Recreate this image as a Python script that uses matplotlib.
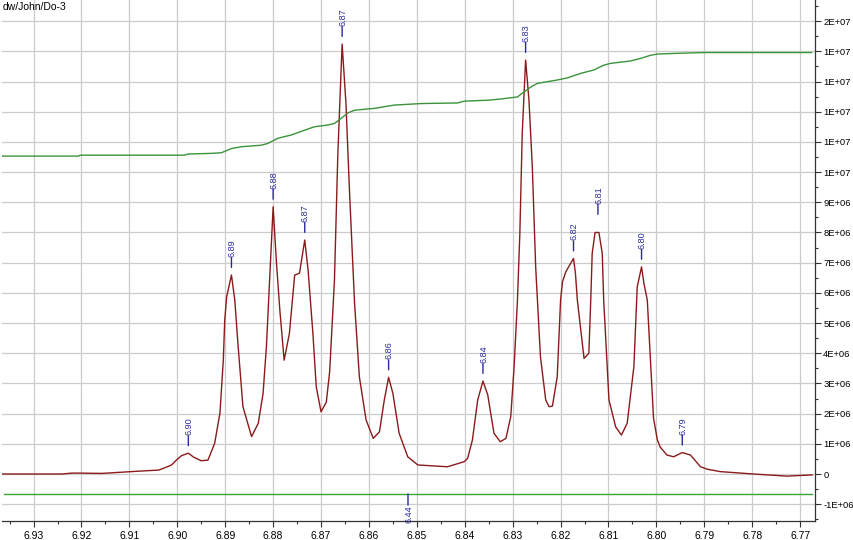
# NMR spectrum, 6.77 - 6.93 ppm, with integral trace and peak picks
import numpy as np
import matplotlib.pyplot as plt
from matplotlib.ticker import MultipleLocator, FuncFormatter

title = "dw/John/Do-3"

# spectrum (ppm, intensity in 1e6 units)
ppm = [6.9366, 6.9241, 6.9220, 6.9206, 6.9158, 6.9074, 6.9039, 6.9027, 6.9012, 6.9002,
       6.8991, 6.8977, 6.8966, 6.8950, 6.8936, 6.8922, 6.8911, 6.8904, 6.8901, 6.8897,
       6.8887, 6.8880, 6.8873, 6.8863, 6.8845, 6.8831, 6.8821, 6.8814, 6.8807, 6.8800,
       6.8793, 6.8786, 6.8777, 6.8766, 6.8755, 6.8745, 6.8734, 6.8727, 6.8717, 6.8710,
       6.8700, 6.8689, 6.8682, 6.8672, 6.8665, 6.8656, 6.8648, 6.8641, 6.8630, 6.8620,
       6.8606, 6.8591, 6.8578, 6.8568, 6.8559, 6.8550, 6.8537, 6.8519, 6.8498, 6.8436,
       6.8401, 6.8394, 6.8384, 6.8373, 6.8362, 6.8352, 6.8339, 6.8326, 6.8314, 6.8304,
       6.8297, 6.8290, 6.8285, 6.8280, 6.8273, 6.8266, 6.8259, 6.8252, 6.8242, 6.8231,
       6.8224, 6.8217, 6.8207, 6.8200, 6.8196, 6.8189, 6.8173, 6.8169, 6.8165, 6.8151,
       6.8141, 6.8137, 6.8134, 6.8128, 6.8120, 6.8113, 6.8110, 6.8099, 6.8085, 6.8073,
       6.8061, 6.8047, 6.8040, 6.8031, 6.8026, 6.8019, 6.8006, 6.7998, 6.7992, 6.7978,
       6.7964, 6.7946, 6.7929, 6.7908, 6.7894, 6.7867, 6.7832, 6.7797, 6.7728, 6.7675]
intensity = [0.00, 0.00, 0.03, 0.03, 0.02, 0.10, 0.13, 0.20, 0.30, 0.46,
             0.61, 0.69, 0.56, 0.44, 0.46, 1.02, 2.02, 3.77, 5.10, 5.87,
             6.59, 5.76, 4.22, 2.23, 1.24, 1.68, 2.67, 4.22, 6.53, 8.85,
             6.98, 5.43, 3.77, 4.66, 6.59, 6.65, 7.75, 6.75, 4.66, 2.89,
             2.06, 2.38, 3.39, 6.42, 10.56, 14.24, 12.28, 9.51, 5.65, 3.22,
             1.79, 1.18, 1.40, 2.45, 3.20, 2.67, 1.35, 0.57, 0.30, 0.24,
             0.41, 0.52, 1.13, 2.45, 3.08, 2.62, 1.35, 1.07, 1.18, 1.90,
             3.55, 5.76, 7.98, 11.29, 13.71, 12.38, 10.18, 6.86, 3.88, 2.45,
             2.23, 2.25, 3.22, 5.76, 6.37, 6.70, 7.14, 6.65, 5.76, 3.83,
             4.00, 5.76, 7.31, 8.00, 8.00, 7.31, 5.76, 2.45, 1.56, 1.29,
             1.68, 3.55, 6.20, 6.86, 6.31, 5.76, 1.85, 1.13, 0.89, 0.63,
             0.57, 0.71, 0.63, 0.24, 0.16, 0.08, 0.04, 0.00, -0.07, -0.03]

# integral curve
int_ppm = [6.9366, 6.9206, 6.9203, 6.8985, 6.8977, 6.8929, 6.8908, 6.8887, 6.8866, 6.8825,
           6.8811, 6.8790, 6.8762, 6.8734, 6.8714, 6.8686, 6.8672, 6.8658, 6.8644, 6.8630,
           6.8589, 6.8547, 6.8491, 6.8415, 6.8401, 6.8352, 6.8325, 6.8290, 6.8276, 6.8262,
           6.8248, 6.8207, 6.8186, 6.8158, 6.8131, 6.8110, 6.8096, 6.8054, 6.8032, 6.8012,
           6.7998, 6.7964, 6.7901, 6.7676]
int_val = [10.53, 10.53, 10.56, 10.56, 10.60, 10.62, 10.64, 10.78, 10.84, 10.89,
           10.95, 11.12, 11.23, 11.39, 11.50, 11.56, 11.61, 11.78, 11.96, 12.05,
           12.11, 12.22, 12.27, 12.29, 12.35, 12.38, 12.42, 12.49, 12.66, 12.82,
           12.94, 13.05, 13.12, 13.27, 13.38, 13.54, 13.60, 13.68, 13.77, 13.87,
           13.91, 13.93, 13.96, 13.96]

# picked peaks
peak_ppm = [6.8977, 6.8887, 6.8800, 6.8734, 6.8656, 6.8559, 6.8362, 6.8273, 6.8173, 6.8122, 6.8031, 6.7946]
peak_int = [0.69, 6.59, 8.85, 7.75, 14.24, 3.20, 3.08, 13.71, 7.14, 8.35, 6.86, 0.71]

# integral region
region = [6.9362, 6.7675]
region_level = -0.66
region_value = "6.44"

scale = 1e6
red = "#8b1a1a"
green = "#3a933a"
blue = "#2a2a9c"

plt.rcParams['font.family'] = ['Liberation Sans', 'DejaVu Sans']
fig = plt.figure(figsize=(8.54, 5.40), dpi=100)
ax = fig.add_axes([0.0023, 0.0352, 0.952, 0.9648])

ax.plot(ppm, np.array(intensity) * scale, color=red, lw=1.0, zorder=3)
ax.plot(int_ppm, np.array(int_val) * scale, color=green, lw=1.0, zorder=3)
ax.plot(region, [region_level * scale] * 2, color="#33a833", lw=1.0, zorder=3)

for p, h in zip(peak_ppm, peak_int):
    ax.annotate("", xy=(p, h * scale), xytext=(0, 12.5), textcoords="offset points",
                arrowprops=dict(arrowstyle="-", color=blue, lw=1.0, shrinkA=0, shrinkB=5.5))
    ax.annotate(f"{p:.2f}", xy=(p, h * scale), xytext=(0.4, 13), textcoords="offset points",
                rotation=90, ha="center", va="bottom", fontsize=6.5, color=blue)

mid = sum(region) / 2
ax.annotate("", xy=(mid, region_level * scale), xytext=(0, -8), textcoords="offset points",
            arrowprops=dict(arrowstyle="-", color=blue, lw=1.0, shrinkA=0, shrinkB=0))
ax.annotate(region_value, xy=(mid, region_level * scale), xytext=(0.4, -8.5), textcoords="offset points",
            rotation=90, ha="center", va="top", fontsize=6.5, color=blue)

ax.set_xlim(6.9366, 6.7669)
ax.set_ylim(-1.556e6, 15.70e6)

ax.xaxis.set_major_locator(MultipleLocator(0.01))
ax.xaxis.set_minor_locator(MultipleLocator(0.005))
ax.xaxis.set_major_formatter(FuncFormatter(lambda v, p: f"{v:.2f}"))
ax.yaxis.set_major_locator(MultipleLocator(1e6))
ax.yaxis.set_minor_locator(MultipleLocator(5e5))
ax.yaxis.set_major_formatter(FuncFormatter(lambda v, p: "0" if abs(v) < 1 else f"{v:.0E}"))
ax.yaxis.tick_right()

ax.tick_params(axis="both", which="major", length=4, width=0.8, color="#333333")
ax.tick_params(axis="x", which="major", labelsize=7.5, pad=3)
ax.tick_params(axis="y", which="major", labelsize=6.8, pad=2)
ax.tick_params(axis="both", which="minor", length=2.5, width=0.8, color="#333333")

ax.grid(True, which="major", color="#cccccc", lw=0.9, zorder=0)
ax.set_axisbelow(True)
for s in ["left", "top"]:
    ax.spines[s].set_visible(False)
for s in ["right", "bottom"]:
    ax.spines[s].set_color("#333333")
    ax.spines[s].set_linewidth(0.9)

ax.text(0.001, 0.997, title, transform=ax.transAxes, ha="left", va="top", fontsize=7.5)

fig.savefig("out.png", dpi=100)
